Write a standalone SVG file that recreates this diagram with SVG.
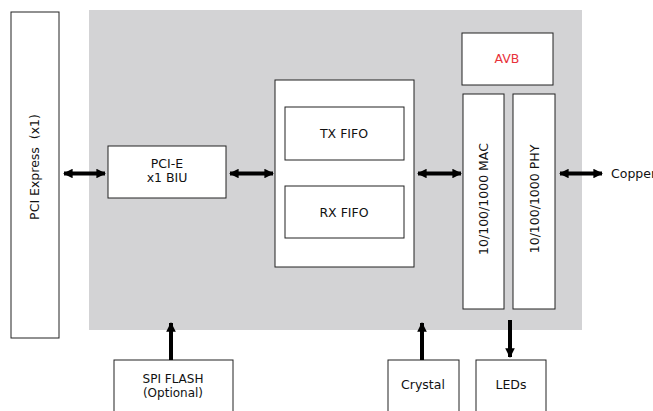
<svg xmlns="http://www.w3.org/2000/svg" width="653" height="411" viewBox="0 0 653 411">
<style>
.box{fill:#fff;stroke:#222;stroke-width:1}
.t{font-family:"DejaVu Sans","Verdana",sans-serif;font-size:12.5px;fill:#111;text-anchor:middle}
.s{font-size:12px}
.red{fill:#e8323a}
.c{stroke:#000;stroke-width:4;fill:none}
</style>
<defs>
<marker id="ah" viewBox="0 0 10 10" refX="9" refY="5" markerWidth="2.4" markerHeight="2.4" orient="auto-start-reverse" markerUnits="strokeWidth">
<path d="M0,0 L10,5 L0,10 z" fill="#000"/>
</marker>
</defs>
<rect id="chip" x="89" y="10" width="493" height="320" fill="#d3d3d5"/>
<g id="pcie-bus"><rect class="box" x="11" y="12" width="48" height="326"/><text class="t" transform="translate(39,167) rotate(-90)" xml:space="preserve">PCI Express  (x1)</text></g>
<g id="biu"><rect class="box" x="108" y="146" width="118" height="52"/><text class="t" x="167" y="168">PCI-E</text><text class="t" x="167" y="182">x1 BIU</text></g>
<g id="fifo"><rect class="box" x="275" y="80" width="139" height="187"/></g>
<g id="txfifo"><rect class="box" x="285" y="107" width="119" height="53"/><text class="t" x="344" y="138">TX FIFO</text></g>
<g id="rxfifo"><rect class="box" x="285" y="186" width="119" height="52"/><text class="t" x="344" y="217">RX FIFO</text></g>
<g id="avb"><rect class="box" x="462" y="33" width="91" height="52"/><text class="t red" x="507" y="63">AVB</text></g>
<g id="mac"><rect class="box" x="463" y="94" width="41" height="215"/><text class="t" transform="translate(488,199) rotate(-90)">10/100/1000 MAC</text></g>
<g id="phy"><rect class="box" x="513" y="94" width="42" height="215"/><text class="t" transform="translate(539,199) rotate(-90)">10/100/1000 PHY</text></g>
<g id="spi"><rect class="box" x="114" y="360" width="119" height="60"/><text class="t s" x="173" y="383">SPI FLASH</text><text class="t s" x="173" y="396.5">(Optional)</text></g>
<g id="crystal"><rect class="box" x="388" y="360" width="71" height="60"/><text class="t" x="423" y="389">Crystal</text></g>
<g id="leds"><rect class="box" x="476" y="360" width="70" height="60"/><text class="t" x="511" y="389">LEDs</text></g>
<g id="copper"><text class="t" x="611" y="178" style="text-anchor:start">Copper</text></g>
<g id="connectors">
<line class="c" x1="64" y1="173.5" x2="105" y2="173.5" marker-start="url(#ah)" marker-end="url(#ah)"/>
<line class="c" x1="230" y1="173.5" x2="273" y2="173.5" marker-start="url(#ah)" marker-end="url(#ah)"/>
<line class="c" x1="418" y1="173.5" x2="461" y2="173.5" marker-start="url(#ah)" marker-end="url(#ah)"/>
<line class="c" x1="560" y1="173.5" x2="602" y2="173.5" marker-start="url(#ah)" marker-end="url(#ah)"/>
<line class="c" x1="171" y1="360" x2="171" y2="323" marker-end="url(#ah)"/>
<line class="c" x1="422" y1="360" x2="422" y2="323" marker-end="url(#ah)"/>
<line class="c" x1="510" y1="320" x2="510" y2="357" marker-end="url(#ah)"/>
</g>
</svg>
